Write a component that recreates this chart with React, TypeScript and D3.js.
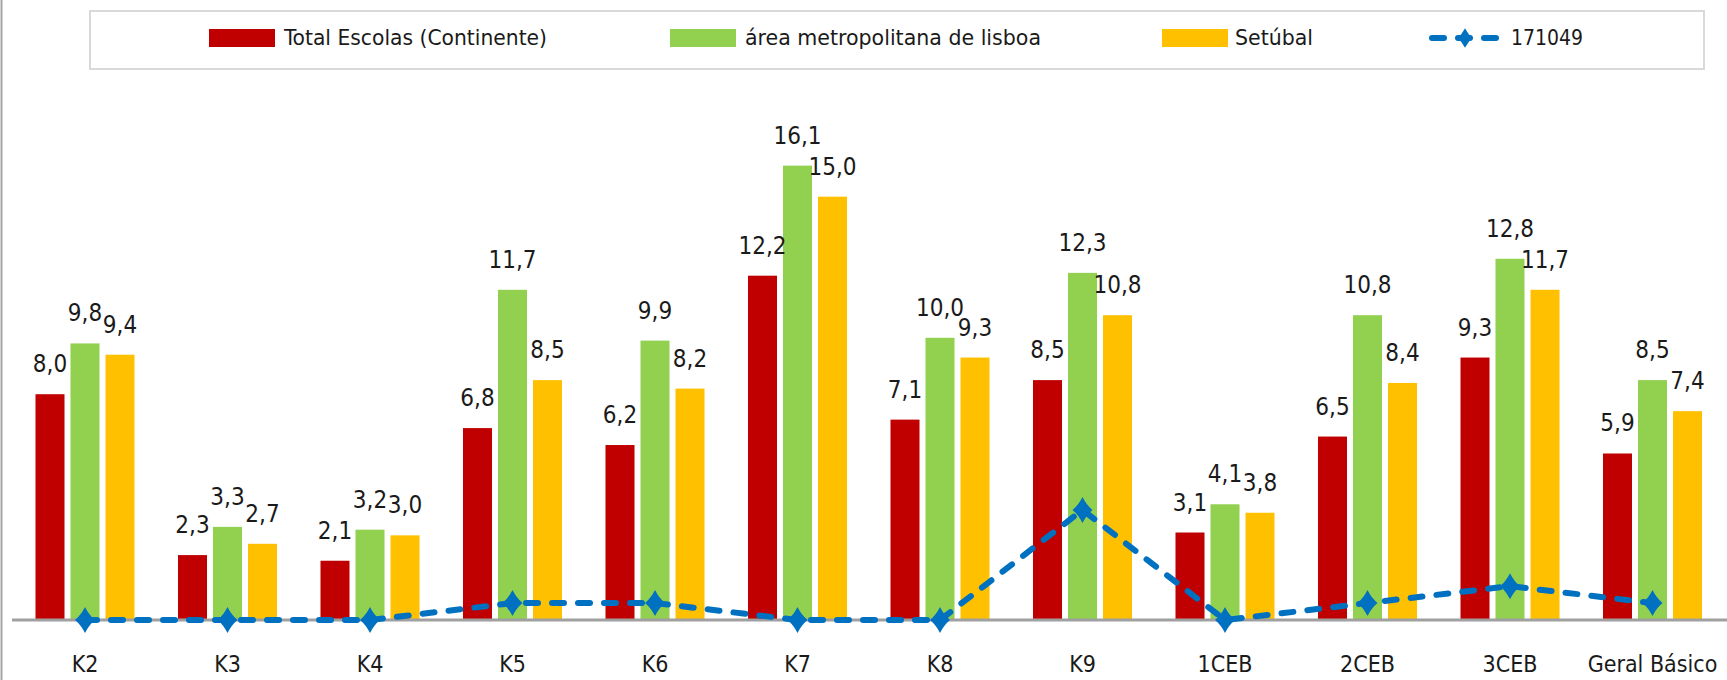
import React, { useEffect, useRef } from "react";
import * as d3 from "d3";

const categories = ["K2", "K3", "K4", "K5", "K6", "K7", "K8", "K9", "1CEB", "2CEB", "3CEB", "Geral Básico"];
const seriesNames = ["Total Escolas (Continente)", "área metropolitana de lisboa", "Setúbal"];
const totalEscolas = [8.0, 2.3, 2.1, 6.8, 6.2, 12.2, 7.1, 8.5, 3.1, 6.5, 9.3, 5.9];
const areaLisboa = [9.8, 3.3, 3.2, 11.7, 9.9, 16.1, 10.0, 12.3, 4.1, 10.8, 12.8, 8.5];
const setubal = [9.4, 2.7, 3.0, 8.5, 8.2, 15.0, 9.3, 10.8, 3.8, 8.4, 11.7, 7.4];
const lineName = "171049";
const escola171049 = [0, 0, 0, 0.6, 0.6, 0, 0, 3.9, 0, 0.6, 1.2, 0.6];

const barColors = ["#C00000", "#92D050", "#FFC000"];
const lineColor = "#0070C0";
const FONT = "'Liberation Sans Narrow', 'DejaVu Sans Condensed', 'Arial Narrow', sans-serif";

// diamond marker, sides a little concave like excel's
const diamond = "M0,-13 Q4,-5 10,0 Q4,5 0,13 Q-4,5 -10,0 Q-4,-5 0,-13Z";

const fmt = (v: number) => v.toFixed(1).replace(".", ",");

const Chart = () => {
  const ref = useRef<SVGSVGElement>(null);

  useEffect(() => {
    const width = 1727;
    const height = 680;
    const svg = d3.select(ref.current).attr("width", width).attr("height", height);
    svg.selectAll("*").remove();

    const series = [totalEscolas, areaLisboa, setubal];

    // scales
    const x0 = d3.scaleBand().domain(categories).range([13.75, 1723.75]).padding(0);
    const x1 = d3
      .scaleBand()
      .domain(seriesNames)
      .range([0, x0.bandwidth()])
      .paddingInner(0.171)
      .paddingOuter(0.621);
    const y = d3.scaleLinear().domain([0, 18]).range([620, 112]);

    // frame edge on the left
    svg.append("line")
      .attr("x1", 1.5).attr("x2", 1.5).attr("y1", 0).attr("y2", height)
      .attr("stroke", "#a6a6a6").attr("stroke-width", 2);

    // bars
    const groups = svg
      .append("g")
      .selectAll("g")
      .data(categories)
      .join("g")
      .attr("transform", (d) => `translate(${x0(d)},0)`);

    groups
      .selectAll("rect")
      .data((d, i) => seriesNames.map((s, k) => ({ s, k, v: series[k][i] })))
      .join("rect")
      .attr("x", (d) => x1(d.s)!)
      .attr("width", x1.bandwidth())
      .attr("y", (d) => y(d.v))
      .attr("height", (d) => y(0) - y(d.v))
      .attr("fill", (d) => barColors[d.k]);

    groups
      .selectAll("text")
      .data((d, i) => seriesNames.map((s, k) => ({ s, k, v: series[k][i] })))
      .join("text")
      .attr("x", (d) => x1(d.s)! + x1.bandwidth() / 2)
      .attr("y", (d) => y(d.v) - 22)
      .attr("text-anchor", "middle")
      .attr("font-family", FONT)
      .attr("font-size", 24)
      .attr("fill", "#1a1a1a")
      .text((d) => fmt(d.v));

    // axis line
    svg.append("line")
      .attr("x1", 12).attr("x2", width).attr("y1", y(0)).attr("y2", y(0))
      .attr("stroke", "#a0a0a0").attr("stroke-width", 3);

    // category labels
    svg.append("g")
      .selectAll("text")
      .data(categories)
      .join("text")
      .attr("x", (d) => x0(d)! + x0.bandwidth() / 2)
      .attr("y", 672)
      .attr("text-anchor", "middle")
      .attr("font-family", FONT)
      .attr("font-size", 23)
      .attr("fill", "#1a1a1a")
      .text((d) => d);

    // dashed line series
    const cx = (d: string) => x0(d)! + x0.bandwidth() / 2;
    const line = d3
      .line<number>()
      .x((d, i) => cx(categories[i]))
      .y((d) => y(d));

    svg.append("path")
      .datum(escola171049)
      .attr("d", line)
      .attr("fill", "none")
      .attr("stroke", lineColor)
      .attr("stroke-width", 6)
      .attr("stroke-linecap", "round")
      .attr("stroke-dasharray", "12 14");

    svg.append("g")
      .selectAll("path")
      .data(escola171049)
      .join("path")
      .attr("d", diamond)
      .attr("transform", (d, i) => `translate(${cx(categories[i])},${y(d)})`)
      .attr("fill", lineColor);

    // legend
    const lg = svg.append("g");
    lg.append("rect")
      .attr("x", 90).attr("y", 11).attr("width", 1614).attr("height", 58)
      .attr("fill", "#fff").attr("stroke", "#d9d9d9").attr("stroke-width", 2);

    const legendPos = [
      { sw: 209, tx: 284, tw: 263 },
      { sw: 670, tx: 745, tw: 296 },
      { sw: 1162, tx: 1235, tw: 78 },
    ];
    seriesNames.forEach((s, k) => {
      const p = legendPos[k];
      lg.append("rect")
        .attr("x", p.sw).attr("y", 29).attr("width", 66).attr("height", 18)
        .attr("fill", barColors[k]);
      lg.append("text")
        .attr("x", p.tx).attr("y", 45)
        .attr("font-family", FONT).attr("font-size", 21)
        .attr("fill", "#1a1a1a")
        .attr("textLength", p.tw).attr("lengthAdjust", "spacingAndGlyphs")
        .text(s);
    });
    lg.append("line")
      .attr("x1", 1432).attr("x2", 1498).attr("y1", 38).attr("y2", 38)
      .attr("stroke", lineColor).attr("stroke-width", 6)
      .attr("stroke-linecap", "round").attr("stroke-dasharray", "12 14");
    lg.append("path")
      .attr("d", diamond)
      .attr("transform", "translate(1465,38) scale(0.75)")
      .attr("fill", lineColor);
    lg.append("text")
      .attr("x", 1511).attr("y", 45)
      .attr("font-family", FONT).attr("font-size", 21)
      .attr("fill", "#1a1a1a")
      .attr("textLength", 72).attr("lengthAdjust", "spacingAndGlyphs")
      .text(lineName);
  }, []);

  return (
    <div style={{ position: "absolute", left: 0, top: 0 }}>
      <svg ref={ref} style={{ display: "block" }}></svg>
    </div>
  );
};

export default function App() {
  return <Chart />;
}
